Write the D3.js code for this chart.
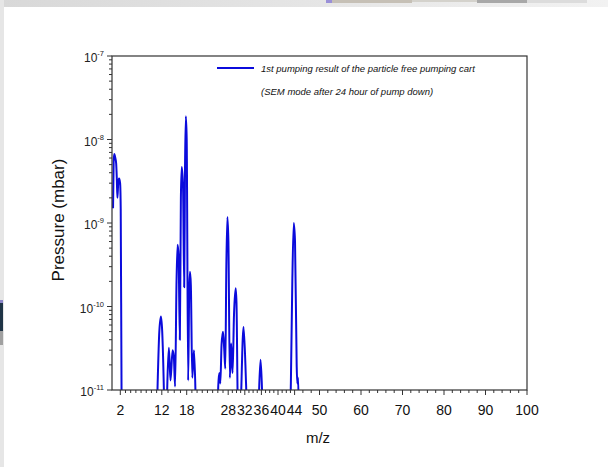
<!DOCTYPE html>
<html>
<head>
<meta charset="utf-8">
<script src="https://cdn.jsdelivr.net/npm/d3@7"></script>
<style>
body { margin: 0; background: #fff; }
text { font-family: "Liberation Sans", Arial, sans-serif; }
</style>
</head>
<body>
<div id="c"></div>
<script>
// m/z and pressure (mbar)
var mz = [0.25, 0.4, 0.55, 0.8, 1.0, 1.15, 1.3, 1.5, 1.7, 1.95, 2.1, 2.3, 2.45,
	10.7, 11.0, 11.4, 11.8, 12.1, 12.5, 12.7,
	13.1, 13.3, 13.7, 14.1, 14.6, 14.9, 15.2, 15.55, 15.8, 16.05, 16.35, 16.6, 16.8, 17.1, 17.4, 17.6, 17.8, 18.0,
	18.35, 18.6, 18.8, 19.0, 19.35, 19.75, 20.1, 20.3,
	25.4, 25.6, 25.85, 26.1, 26.4, 26.75, 27.05, 27.3, 27.55, 27.8, 28.05, 28.4, 28.7, 29.05, 29.4, 29.8, 30.0, 30.35,
	30.9, 31.15, 31.7, 32.3, 32.7,
	35.2, 35.45, 35.8, 36.15, 36.4,
	42.8, 43.1, 43.45, 43.8, 44.1, 44.5, 44.65, 44.85, 45.1, 100];
var pressure = [1.5e-9, 5.5e-9, 6.7e-9, 6.0e-9, 5.2e-9, 3.5e-9, 2.0e-9, 3.0e-9, 3.4e-9, 3.0e-9, 1.5e-9, 1e-11, 3e-12,
	3e-12, 1.2e-11, 5e-11, 7.6e-11, 5e-11, 1e-11, 3e-12,
	3e-12, 1e-11, 3.2e-11, 1.3e-11, 3.0e-11, 2.5e-11, 1.1e-11, 2e-10, 5.5e-10, 4e-10, 4e-11, 2e-9, 4.7e-9, 3e-9, 1.7e-10, 5e-9, 1.9e-8, 1e-8,
	1.3e-11, 1.5e-10, 2.6e-10, 1.8e-10, 1.4e-11, 3.0e-11, 1e-11, 3e-12,
	3e-12, 1.1e-11, 1.6e-11, 1.2e-11, 3.5e-11, 5e-11, 3e-11, 1.8e-11, 3e-10, 1.18e-9, 6e-10, 1.4e-11, 3.6e-11, 1.6e-11, 8e-11, 1.65e-10, 1.1e-10, 5e-12,
	3e-12, 1e-11, 5.7e-11, 1.2e-11, 3e-12,
	3e-12, 1e-11, 2.3e-11, 1e-11, 3e-12,
	3e-12, 1.2e-11, 2e-10, 1.0e-9, 6e-10, 2e-11, 1.2e-11, 1.4e-11, 3e-12, 3e-12];

var x_major = [2, 12, 18, 28, 32, 36, 40, 44, 50, 60, 70, 80, 90, 100];
var x_minor_count = [7, 3, 7, 3, 3, 3, 3, 2, 4, 4, 4, 4, 4];
var y_exponents = [-7, -8, -9, -10, -11];
var legend_lines = ["1st pumping result of the particle free pumping cart", "(SEM mode after 24 hour of pump down)"];

var width = 608, height = 467;
var p_left = 112, p_right = 527, p_top = 56, p_bottom = 390;

var svg = d3.select("#c").append("svg")
	.attr("width", width)
	.attr("height", height);

// bits of the screenshot around the chart
var bg = svg.append("defs").append("linearGradient").attr("id", "topg");
bg.append("stop").attr("offset", "0").attr("stop-color", "#d8d8d8");
bg.append("stop").attr("offset", "1").attr("stop-color", "#f2f2f2");
svg.append("rect").attr("x", 0).attr("y", 0).attr("width", width).attr("height", 7).attr("fill", "url(#topg)");
svg.append("rect").attr("x", 326).attr("y", 0).attr("width", 6).attr("height", 3).attr("fill", "#9a90d8");
svg.append("rect").attr("x", 332).attr("y", 0).attr("width", 80).attr("height", 3).attr("fill", "#c6c0b6");
svg.append("rect").attr("x", 412).attr("y", 0).attr("width", 65).attr("height", 2).attr("fill", "#d4d2cc");
svg.append("rect").attr("x", 477).attr("y", 0).attr("width", 50).attr("height", 3).attr("fill", "#a8a8a8");
svg.append("rect").attr("x", 527).attr("y", 0).attr("width", 60).attr("height", 3).attr("fill", "#dcdcdc");
svg.append("rect").attr("x", 0).attr("y", 0).attr("width", 4).attr("height", height).attr("fill", "#e6e6e6");
svg.append("rect").attr("x", 0).attr("y", 300).attr("width", 3).attr("height", 3).attr("fill", "#8c86c8");
svg.append("rect").attr("x", 0).attr("y", 303).attr("width", 3).attr("height", 28).attr("fill", "#1f3446");
svg.append("rect").attr("x", 0).attr("y", 331).attr("width", 3).attr("height", 14).attr("fill", "#a0a0a0");

var x_scale = d3.scaleLinear().domain([0, 100]).range([p_left, p_right]);
var y_scale = d3.scaleLog().domain([1e-11, 1e-7]).range([p_bottom, p_top]);

svg.append("clipPath").attr("id", "plot")
	.append("rect")
	.attr("x", p_left).attr("y", p_top)
	.attr("width", p_right - p_left).attr("height", p_bottom - p_top);

var pts = mz.map(function(m, i) { return [m, pressure[i]]; });

var line = d3.line()
	.x(function(d) { return x_scale(d[0]); })
	.y(function(d) { return y_scale(d[1]); })
	.curve(d3.curveMonotoneX);

svg.append("path")
	.datum(pts)
	.attr("clip-path", "url(#plot)")
	.attr("d", line)
	.attr("fill", "none")
	.attr("stroke", "#0b0bdc")
	.attr("stroke-width", 2)
	.attr("stroke-linejoin", "round");

// frame
svg.append("rect")
	.attr("x", p_left).attr("y", p_top)
	.attr("width", p_right - p_left).attr("height", p_bottom - p_top)
	.attr("fill", "none")
	.attr("stroke", "#333")
	.attr("stroke-width", 1.2);

// x ticks
var x_minor = [];
for (var i = 0; i < x_major.length - 1; i++) {
	var n = x_minor_count[i];
	var step = (x_major[i + 1] - x_major[i]) / (n + 1);
	for (var j = 1; j <= n; j++) x_minor.push(x_major[i] + j * step);
}

var x_axis = svg.append("g").attr("transform", "translate(0," + p_bottom + ")");
x_axis.selectAll(".xmin").data(x_minor).enter().append("line")
	.attr("x1", function(d) { return x_scale(d); })
	.attr("x2", function(d) { return x_scale(d); })
	.attr("y1", 0).attr("y2", 3)
	.attr("stroke", "#333");
x_axis.selectAll(".xmaj").data(x_major).enter().append("line")
	.attr("x1", function(d) { return x_scale(d); })
	.attr("x2", function(d) { return x_scale(d); })
	.attr("y1", 0).attr("y2", 5)
	.attr("stroke", "#333");
x_axis.selectAll("text").data(x_major).enter().append("text")
	.attr("x", function(d) { return x_scale(d); })
	.attr("y", 25)
	.attr("text-anchor", "middle")
	.attr("font-size", 14)
	.attr("fill", "#111")
	.text(function(d) { return d; });

// y ticks
var y_minor = [];
y_exponents.slice(1).forEach(function(e) {
	for (var m = 2; m <= 9; m++) y_minor.push(m * Math.pow(10, e));
});
var y_axis = svg.append("g").attr("transform", "translate(" + p_left + ",0)");
y_axis.selectAll(".ymin").data(y_minor).enter().append("line")
	.attr("x1", -3).attr("x2", 0)
	.attr("y1", function(d) { return y_scale(d); })
	.attr("y2", function(d) { return y_scale(d); })
	.attr("stroke", "#333");
y_axis.selectAll(".ymaj").data(y_exponents).enter().append("line")
	.attr("x1", -5).attr("x2", 0)
	.attr("y1", function(d) { return y_scale(Math.pow(10, d)); })
	.attr("y2", function(d) { return y_scale(Math.pow(10, d)); })
	.attr("stroke", "#333");
var ylab = y_axis.selectAll("text").data(y_exponents).enter().append("text")
	.attr("x", -8)
	.attr("y", function(d) { return y_scale(Math.pow(10, d)) + 6; })
	.attr("text-anchor", "end")
	.attr("font-size", 12)
	.attr("fill", "#222");
ylab.append("tspan").text("10");
ylab.append("tspan").attr("dy", -6).attr("font-size", 7.5).text(function(d) { return d; });

// axis titles
svg.append("text")
	.attr("transform", "translate(64," + ((p_top + p_bottom) / 2 - 3) + ") rotate(-90)")
	.attr("text-anchor", "middle")
	.attr("font-size", 17)
	.attr("fill", "#111")
	.text("Pressure (mbar)");
svg.append("text")
	.attr("x", 318)
	.attr("y", 443)
	.attr("text-anchor", "middle")
	.attr("font-size", 15)
	.attr("fill", "#111")
	.text("m/z");

// legend
svg.append("line")
	.attr("x1", 217).attr("x2", 254)
	.attr("y1", 68).attr("y2", 68)
	.attr("stroke", "#0b0bdc").attr("stroke-width", 2);
svg.selectAll(".leg").data(legend_lines).enter().append("text")
	.attr("x", 261)
	.attr("y", function(d, i) { return 72 + i * 23; })
	.attr("font-size", 9.5)
	.attr("font-style", "italic")
	.attr("fill", "#111")
	.text(function(d) { return d; });
</script>
</body>
</html>
